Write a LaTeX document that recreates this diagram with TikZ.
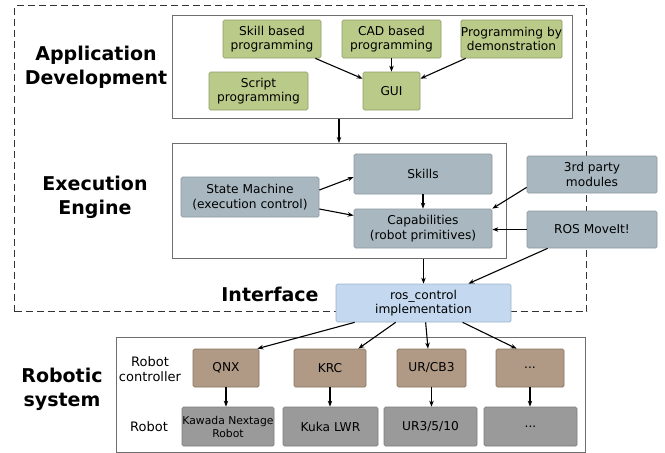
\documentclass[tikz,border=0pt]{standalone}
\usepackage{fontspec}
\setmainfont{DejaVu Sans}
\usetikzlibrary{arrows.meta,calc}
\definecolor{grn}{HTML}{BACA88}
\definecolor{grnd}{HTML}{8E9D68}
\definecolor{blg}{HTML}{A9B8C0}
\definecolor{blgd}{HTML}{8A979E}
\definecolor{brn}{HTML}{B09A85}
\definecolor{brnd}{HTML}{867361}
\definecolor{gry}{HTML}{9A9A9A}
\definecolor{gryd}{HTML}{7C7C7C}
\definecolor{lbl}{HTML}{C4D9F0}
\definecolor{lbld}{HTML}{9CB2CB}
\definecolor{frm}{HTML}{6E6E6E}
\definecolor{dsh}{HTML}{333333}
\tikzset{
  box/.style={draw, rounded corners=1.5pt, line width=0.7pt, align=center, inner sep=0pt,
    font=\fontsize{12.2}{14.5}\selectfont},
  gbox/.style={box, fill=grn, draw=grnd},
  bbox/.style={box, fill=blg, draw=blgd},
  rbox/.style={box, fill=brn, draw=brnd},
  kbox/.style={box, fill=gry, draw=gryd},
  lbox/.style={box, fill=lbl, draw=lbld},
  frame/.style={draw=frm, line width=0.8pt, inner sep=0pt, anchor=north west},
  dframe/.style={draw=dsh, line width=1.3pt, dash pattern=on 7pt off 4pt, inner sep=0pt, anchor=north west},
  arr/.style={-{Stealth[length=6pt,width=4.5pt]}, line width=1.1pt},
  head/.style={font=\bfseries\fontsize{19}{24}\selectfont, align=center, inner sep=0pt},
  lab/.style={font=\fontsize{13}{15}\selectfont, align=center, inner sep=0pt},
}
\begin{document}
\begin{tikzpicture}[x=1pt,y=-1pt]
\useasboundingbox (0,0) rectangle (665,453);
% frames
\node[dframe, minimum width=572pt, minimum height=306pt] (zone) at (14,5) {};
\node[frame, minimum width=400pt, minimum height=103pt] (app) at (172,15) {};
\node[frame, minimum width=334pt, minimum height=115pt] (exec) at (172,143) {};
\node[frame, minimum width=469pt, minimum height=115pt] (robsys) at (116,337) {};
% headings
\node[head] (happ) at (96,67) {Application\\Development};
\node[head] (hexec) at (95,197) {Execution\\Engine};
\node[head] (hint) at (270,294) {Interface};
\node[head] (hrob) at (62,389) {Robotic\\system};
\node[lab] (lctrl) at (150,369) {Robot\\controller};
\node[lab] (lrobot) at (149,427) {Robot};
% application development
\node[gbox, minimum width=98pt, minimum height=38pt] (skill) at (272,39) {Skill based\\programming};
\node[gbox, minimum width=99pt, minimum height=38pt] (cad) at (391.5,39) {CAD based\\programming};
\node[gbox, minimum width=99pt, minimum height=38pt] (demo) at (511.5,39) {Programming by\\demonstration};
\node[gbox, minimum width=99pt, minimum height=38pt] (script) at (258.5,91) {Script\\programming};
\node[gbox, minimum width=57pt, minimum height=38pt] (gui) at (391.5,91) {GUI};
% execution engine
\node[bbox, minimum width=138pt, minimum height=40pt] (state) at (250,197) {State Machine\\(execution control)};
\node[bbox, minimum width=138pt, minimum height=40pt] (skills) at (423,174) {Skills};
\node[bbox, minimum width=138pt, minimum height=39pt] (caps) at (423,228.5) {Capabilities\\(robot primitives)};
\node[bbox, minimum width=130pt, minimum height=37pt] (third) at (592,174.5) {3rd party\\modules};
\node[bbox, minimum width=130pt, minimum height=37pt] (moveit) at (592,229.5) {ROS MoveIt!};
% interface
\node[lbox, minimum width=175pt, minimum height=38pt] (rosctrl) at (423.5,303) {ros\_control\\implementation};
% robotic system
\node[rbox, minimum width=66pt, minimum height=38pt] (qnx) at (226,368) {QNX};
\node[rbox, minimum width=72pt, minimum height=38pt] (krc) at (330,368) {KRC};
\node[rbox, minimum width=69pt, minimum height=38pt] (urcb) at (431.5,368) {UR/CB3};
\node[rbox, minimum width=68pt, minimum height=38pt] (ctrlx) at (530,368) {...};
\node[kbox, minimum width=92pt, minimum height=39pt, font=\fontsize{10.8}{13}\selectfont] (kawada) at (228,426.5) {Kawada Nextage\\Robot};
\node[kbox, minimum width=95pt, minimum height=39pt] (kuka) at (330.5,426.5) {Kuka LWR};
\node[kbox, minimum width=93pt, minimum height=39pt] (ur) at (430.5,426.5) {UR3/5/10};
\node[kbox, minimum width=93pt, minimum height=39pt] (robx) at (530.5,426.5) {...};
% connectors
\draw[arr] ([xshift=-6pt]skill.south east) -- ([yshift=-7pt]gui.north west);
\draw[arr] (cad.south) -- (gui.north);
\draw[arr] ([xshift=5pt]demo.south west) -- ([yshift=-7pt]gui.north east);
\draw[arr] ([xshift=167pt]app.south west) -- ([xshift=167pt]exec.north west);
\draw[arr] ([yshift=7pt]state.east) -- ([yshift=-3pt]skills.west);
\draw[arr] ([yshift=-12pt]state.east) -- ([yshift=13pt]caps.west);
\draw[arr] (skills.south) -- (caps.north);
\draw[arr] ([yshift=6pt]third.south west) -- (caps.north east);
\draw[arr] (moveit.west) -- (moveit.west -| caps.east);
\draw[arr] (rosctrl.north |- exec.south) -- (rosctrl.north);
\draw[arr] ([xshift=21pt]moveit.south west) -- ([xshift=-43pt]rosctrl.north east);
\draw[arr] ([xshift=19pt]rosctrl.south west) -- ([xshift=-2pt]qnx.north east);
\draw[arr] ([xshift=60pt]rosctrl.south west) -- ([xshift=-8pt]krc.north east);
\draw[arr] ([xshift=90pt]rosctrl.south west) -- ([xshift=-3.5pt]urcb.north);
\draw[arr] ([xshift=127pt]rosctrl.south west) -- ([xshift=21pt]ctrlx.north west);
\draw[arr] (qnx.south) -- (qnx.south |- kawada.north);
\draw[arr] (krc.south) -- (krc.south |- kuka.north);
\draw[arr] (urcb.south) -- (urcb.south |- ur.north);
\draw[arr] (ctrlx.south) -- (ctrlx.south |- robx.north);
\end{tikzpicture}
\end{document}
